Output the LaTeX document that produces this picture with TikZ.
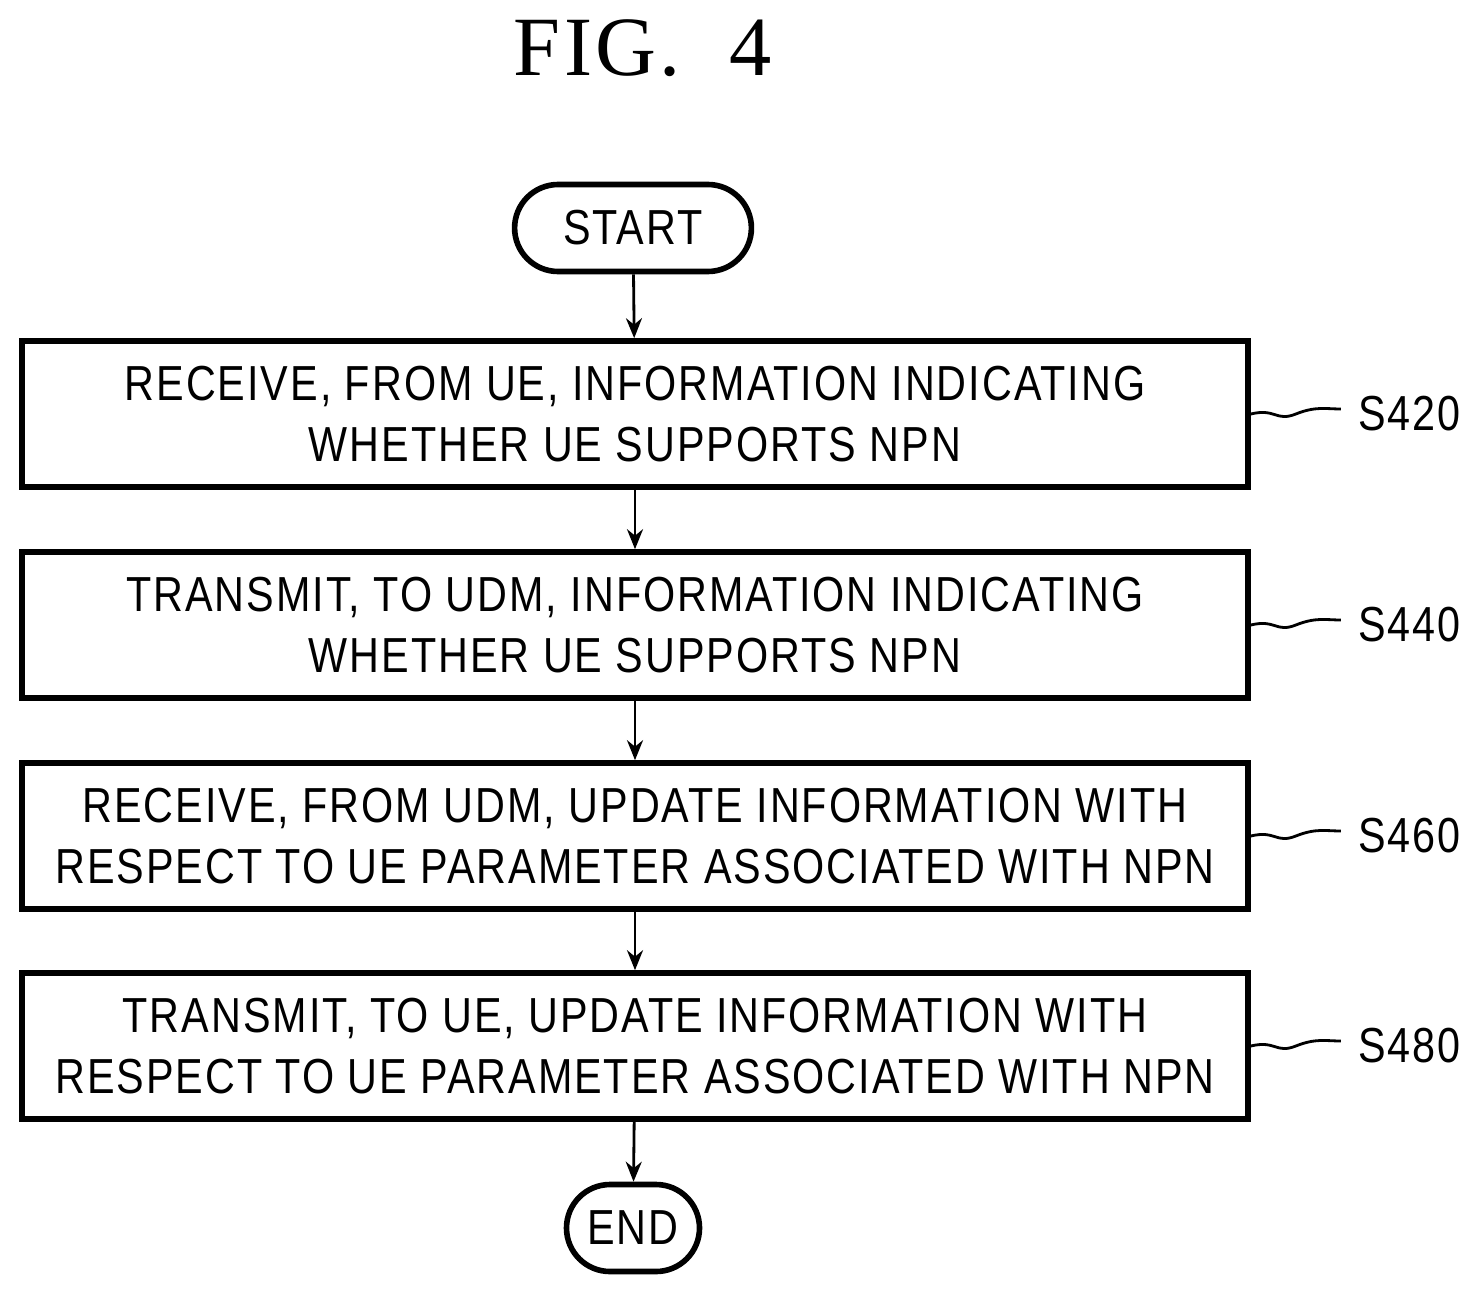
\documentclass[tikz,border=0pt]{standalone}
\usepackage{fontspec}
\setmainfont{Liberation Sans}[FakeStretch=0.84,LetterSpace=4]
\newfontfamily\figfont{Liberation Serif}[LetterSpace=4]
\usetikzlibrary{positioning,arrows.meta,shapes.misc}

\begin{document}
\begin{tikzpicture}[
    every node/.style={font=\fontsize{14}{17.5}\selectfont},
    stepbox/.style={draw, line width=1.6pt, minimum width=12.26cm, minimum height=1.46cm, align=center},
    term/.style={draw, line width=1.6pt, rounded rectangle, minimum width=2.23cm, minimum height=0.87cm, inner xsep=0.45cm},
    flow/.style={-{Stealth[length=2mm,width=1.6mm]}, line width=0.8pt},
    tag/.style={anchor=west},
    lead/.style={line width=0.8pt}]
\useasboundingbox (0,0) rectangle (14.7,12.95);
\node (fig) at (6.43,12.47) {\fontsize{24}{24}\selectfont\figfont FIG.\ \ 4};
\node[term] (start) at (6.33,10.67) {START};
\node[stepbox] (s420) at (6.35,8.81) {RECEIVE, FROM UE, INFORMATION INDICATING\\WHETHER UE SUPPORTS NPN};
\node[stepbox] (s440) at (6.35,6.70) {TRANSMIT, TO UDM, INFORMATION INDICATING\\WHETHER UE SUPPORTS NPN};
\node[stepbox] (s460) at (6.35,4.59) {RECEIVE, FROM UDM, UPDATE INFORMATION WITH\\RESPECT TO UE PARAMETER ASSOCIATED WITH NPN};
\node[stepbox] (s480) at (6.35,2.49) {TRANSMIT, TO UE, UPDATE INFORMATION WITH\\RESPECT TO UE PARAMETER ASSOCIATED WITH NPN};
\node[term] (end) at (6.33,0.67) {END};
\draw[flow] (start) -- (s420);
\draw[flow] (s420) -- (s440);
\draw[flow] (s440) -- (s460);
\draw[flow] (s460) -- (s480);
\draw[flow] (s480) -- (end);
% step labels
\foreach \s in {420,440,460,480} {
  \node[tag] (t\s) at ([xshift=0.95cm]s\s.east) {S\s};
  \draw[lead] (s\s.east) .. controls +(0.25,0.06) and +(-0.2,-0.08) .. ([xshift=0.45cm]s\s.east)
     .. controls +(0.2,0.08) and +(-0.15,0) .. ([xshift=0.9cm,yshift=0.05cm]s\s.east);
}
\end{tikzpicture}
\end{document}
